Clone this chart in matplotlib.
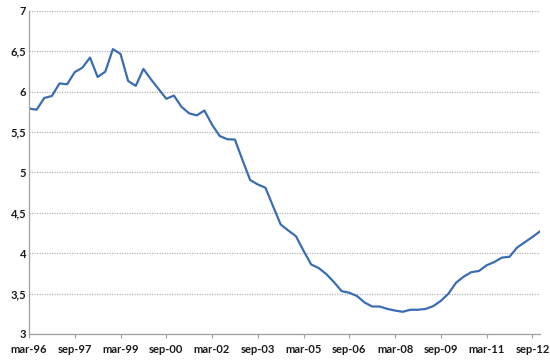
import matplotlib
matplotlib.use("Agg")
import matplotlib.pyplot as plt
from matplotlib.ticker import FuncFormatter

# quarterly series, mar-96 .. dec-12
years = list(range(1996, 2013))
months = ["mar", "jun", "sep", "dec"]
quarters = [f"{m}-{y % 100:02d}" for y in years for m in months]

values = [
    5.79, 5.775, 5.92, 5.945, 6.10, 6.09, 6.24, 6.295, 6.42, 6.18,
    6.245, 6.525, 6.465, 6.13, 6.07, 6.28, 6.15, 6.03, 5.91, 5.95,
    5.81, 5.73, 5.705, 5.765, 5.59, 5.45, 5.41, 5.405, 5.15, 4.905,
    4.85, 4.81, 4.58, 4.355, 4.28, 4.21, 4.03, 3.86, 3.815, 3.74,
    3.64, 3.53, 3.51, 3.47, 3.39, 3.34, 3.34, 3.31, 3.29, 3.275,
    3.30, 3.30, 3.31, 3.345, 3.41, 3.50, 3.635, 3.71, 3.765, 3.78,
    3.85, 3.89, 3.945, 3.955, 4.07, 4.135, 4.20, 4.27,
]

y_ticks = [3, 3.5, 4, 4.5, 5, 5.5, 6, 6.5, 7]

fig = plt.figure(figsize=(5.5, 3.6), dpi=100)
ax = fig.add_axes([29 / 550, 1 - 334 / 360, 511 / 550, 323.3 / 360])

x = list(range(len(values)))
ax.plot(x, values, color="#3b6db4", linewidth=1.6, solid_joinstyle="round")

ax.set_xlim(0, len(values) - 1)
ax.set_ylim(3, 7)

# x ticks every 6 quarters
tick_pos = x[::6]
ax.set_xticks(tick_pos)
ax.set_xticklabels([quarters[i] for i in tick_pos])
ax.set_yticks(y_ticks)
ax.yaxis.set_major_formatter(FuncFormatter(lambda v, p: f"{v:g}".replace(".", ",")))

ax.grid(axis="y", linestyle=(0, (1, 1)), color="#b4b4b4", linewidth=0.9)
ax.set_axisbelow(True)

for s in ["top", "right"]:
    ax.spines[s].set_visible(False)
for s in ["left", "bottom"]:
    ax.spines[s].set_color("#a0a0a0")
    ax.spines[s].set_linewidth(0.9)

ax.tick_params(axis="x", length=3, width=0.8, color="#a0a0a0", pad=4)
ax.tick_params(axis="y", length=0, pad=2)
for lab in ax.get_xticklabels() + ax.get_yticklabels():
    lab.set_fontfamily("Lato")
    lab.set_fontweight("bold")
    lab.set_fontsize(8)
    lab.set_color("#1a1a1a")

fig.savefig("out.png", dpi=100)
